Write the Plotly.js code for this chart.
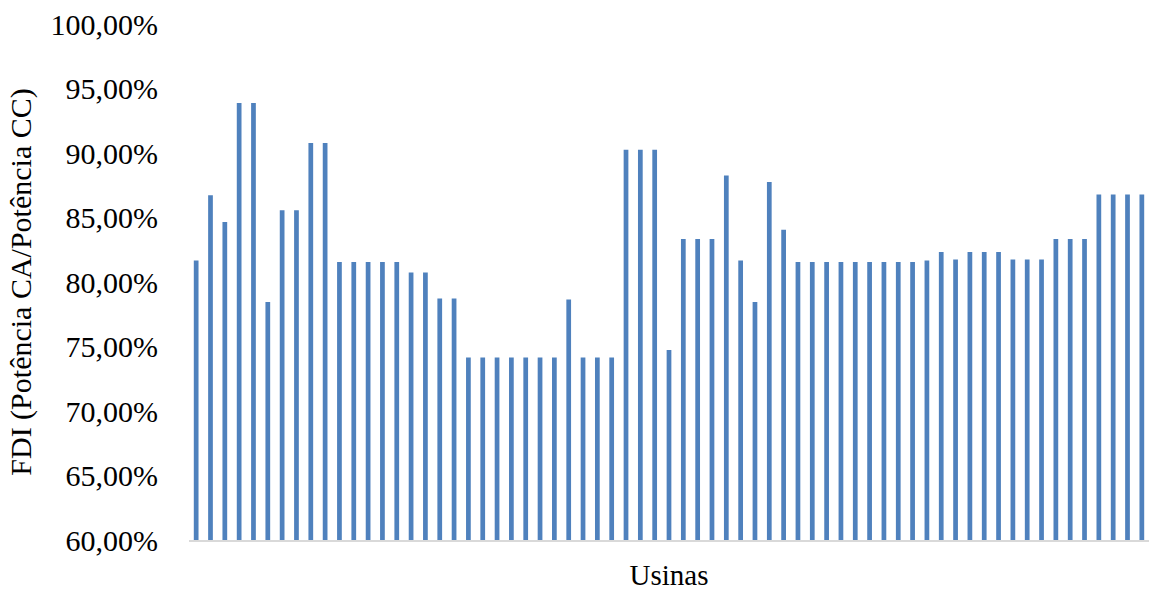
<!DOCTYPE html>
<html>
<head>
<meta charset="utf-8">
<script src="https://cdn.plot.ly/plotly-3.0.1.min.js"></script>
<style>
  html, body { margin: 0; padding: 0; background: #ffffff; }
  #chart { width: 1149px; height: 600px; }
</style>
</head>
<body>
<div id="chart"></div>
<script>
// FDI (inverter loading ratio) per plant, in percent
const fdi = [
  81.66, 86.72, 84.66, 93.88, 93.88, 78.44, 85.56, 85.56, 90.78, 90.78,
  81.56, 81.56, 81.56, 81.56, 81.56, 80.73, 80.73, 78.72, 78.72, 74.15,
  74.15, 74.15, 74.15, 74.15, 74.15, 74.15, 78.64, 74.15, 74.15, 74.15,
  90.26, 90.26, 90.26, 74.72, 83.34, 83.34, 83.34, 88.25, 81.66, 78.44,
  87.76, 84.06, 81.56, 81.56, 81.56, 81.56, 81.56, 81.56, 81.56, 81.56,
  81.56, 81.66, 82.33, 81.74, 82.33, 82.33, 82.33, 81.74, 81.74, 81.74,
  83.34, 83.34, 83.34, 86.78, 86.78, 86.78, 86.78
];

// one category per plant (labels are not shown on the axis)
const usinas = fdi.map((_, i) => 'Usina ' + (i + 1));

// y-axis ticks and their Portuguese-formatted labels
const yTicks = [60, 65, 70, 75, 80, 85, 90, 95, 100];
const yTickText = ['60,00%', '65,00%', '70,00%', '75,00%', '80,00%',
                   '85,00%', '90,00%', '95,00%', '100,00%'];

const serif = 'Liberation Serif, Times New Roman, serif';

const trace = {
  type: 'bar',
  x: usinas,
  y: fdi,
  marker: { color: '#4f81bd', line: { width: 0 } },
  hoverinfo: 'x+y'
};

const layout = {
  width: 1149,
  height: 600,
  margin: { l: 189, r: 0, t: 24, b: 60 },
  paper_bgcolor: '#ffffff',
  plot_bgcolor: '#ffffff',
  bargap: 0.67,
  showlegend: false,
  font: { family: serif, color: '#000000', size: 30 },
  xaxis: {
    type: 'category',
    showticklabels: false,
    ticks: '',
    showgrid: false,
    zeroline: false,
    showline: true,
    linecolor: '#d9d9d9',
    linewidth: 1.5,
    title: { text: 'Usinas', font: { family: serif, size: 29, color: '#000000' }, standoff: 24 },
    automargin: false
  },
  yaxis: {
    range: [60, 100],
    tickmode: 'array',
    tickvals: yTicks,
    ticktext: yTickText,
    ticks: 'outside',
    ticklen: 24,
    tickcolor: 'rgba(0,0,0,0)',
    tickfont: { family: serif, size: 30, color: '#000000' },
    showgrid: false,
    zeroline: false,
    showline: false,
    title: { text: 'FDI (Potência CA/Potência CC)', font: { family: serif, size: 30, color: '#000000' }, standoff: 10 },
    automargin: false
  }
};

Plotly.newPlot('chart', [trace], layout, { staticPlot: true, displayModeBar: false });
</script>
</body>
</html>
